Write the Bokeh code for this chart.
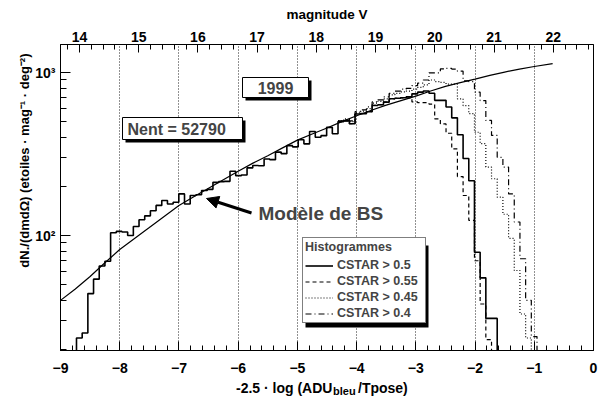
import math
import numpy as np
from bokeh.plotting import figure
from bokeh.layouts import column
from bokeh.models import (Range1d, LinearAxis, FixedTicker, BoxAnnotation, Label, Title, Div,
                          Arrow, NormalHead, Legend, LegendItem)
from bokeh.embed import file_html
from bokeh.resources import INLINE

# ---------------- data ----------------
bin_start = -8.73
bin_width = 0.096

solid_vals = [23.5, 25.2, 44, 54, 65, 69.5, 104, 106, 105, 100,
              113.5, 125, 132, 142, 153, 164, 156, 160, 180, 156,
              176, 178, 189, 192, 212, 214, 215, 248, 233, 235,
              260, 269, 268, 295, 292, 325, 318, 356, 350, 387,
              365, 435, 401, 410, 461, 421, 500, 505, 485, 557,
              560, 575, 628, 635, 658, 690, 695, 700, 710, 740,
              758, 770, 747, 675, 675, 615, 527, 415, 297, 217,
              79, 55, 31, 31, 10]

tail_start = 46
dashed_tail = [500, 505, 485, 557, 560, 575, 628, 635, 658, 690, 695, 700,
               700, 660, 653, 653, 640, 520, 484, 424, 340, 230, 176, 124,
               70, 38, 23, 10]
dotted_tail = [505, 515, 500, 565, 580, 600, 650, 665, 690, 730, 745, 760,
               770, 790, 810, 840, 900, 880, 870, 850, 850, 690, 627, 560,
               430, 366, 263, 223, 172, 135, 96, 61, 33, 23.5, 10]
dashdot_tail = [505, 520, 505, 575, 590, 615, 660, 680, 710, 745, 770, 790,
                800, 830, 860, 900, 995, 995, 1052, 1060, 1050, 1020, 890, 880,
                758, 673, 508, 411, 302, 263, 180, 121, 72, 40, 24, 10]

curve_x = [-9.0, -8.75, -8.5, -8.25, -8.0, -7.75, -7.5, -7.25, -7.0, -6.75,
           -6.5, -6.25, -6.0, -5.75, -5.5, -5.25, -5.0, -4.75, -4.5, -4.25,
           -4.0, -3.75, -3.5, -3.25, -3.0, -2.75, -2.5, -2.25, -2.0, -1.75,
           -1.5, -1.25, -1.0, -0.69]
curve_y = [40, 47, 56, 68, 82, 96, 112, 131, 153, 173,
           195, 220, 248, 278, 309, 345, 385, 420, 457, 500,
           543, 587, 631, 673, 716, 770, 822, 868, 912, 960,
           1007, 1050, 1089, 1135]

series_labels = ["CSTAR > 0.5", "CSTAR > 0.55", "CSTAR > 0.45", "CSTAR > 0.4"]
x_ticks = [-9, -8, -7, -6, -5, -4, -3, -2, -1, 0]
mag_ticks = [14, 15, 16, 17, 18, 19, 20, 21, 22]
mag_offset = 22.68
y_major = [100, 1000]
y_major_labels = {100: "10²", 1000: "10³"}
y_minor = [20, 30, 40, 50, 60, 70, 80, 90, 200, 300, 400, 500, 600, 700, 800, 900]
year_text = "1999"
nent_text = "Nent = 52790"
model_text = "Modèle de BS"
top_title = "magnitude V"
left_title = "dN./(dmdΩ) (etoiles · mag⁻¹ · deg⁻²)"

# ---------------- layout helpers (page px -> data) ----------------
Y0, Y1 = 19.7, 1486.0
X0, X1 = -9.0, 0.0
FL, FR, FT, FB = 60, 593, 44, 350
FLOOR = 1.0
FONT = "Liberation Sans"
W, H = 598, 380


def X(px):
    return X0 + (px - FL) * (X1 - X0) / (FR - FL)


def Y(py):
    l0, l1 = math.log10(Y0), math.log10(Y1)
    return 10 ** (l1 - (py - FT) / (FB - FT) * (l1 - l0))


def step_path(vals, first_index, from_floor):
    edges = [bin_start + bin_width * (first_index + k) for k in range(len(vals) + 1)]
    xs, ys = [], []
    if from_floor:
        xs.append(edges[0]); ys.append(FLOOR)
    for k, v in enumerate(vals):
        xs += [edges[k], edges[k + 1]]
        ys += [v, v]
    xs.append(edges[-1]); ys.append(FLOOR)
    return xs, ys


p = figure(width=W, height=H, x_range=Range1d(X0, X1), y_range=Range1d(Y0, Y1),
           y_axis_type="log", output_backend="svg", toolbar_location=None,
           min_border_left=FL, min_border_right=W - FR, min_border_top=FT, min_border_bottom=H - FB)
p.background_fill_color = "white"
p.border_fill_color = "white"
p.outline_line_color = "black"
p.outline_line_width = 1

# grid
p.xgrid.ticker = FixedTicker(ticks=x_ticks)
p.xgrid.grid_line_color = "#222222"
p.xgrid.grid_line_dash = "1 2"
p.xgrid.grid_line_width = 1
p.ygrid.visible = False


def style_axis(ax, tick_in, minor_in, standoff):
    ax.major_tick_in = tick_in
    ax.major_tick_out = 0
    ax.minor_tick_in = minor_in
    ax.minor_tick_out = 0
    ax.major_label_standoff = standoff
    ax.major_label_text_font = FONT
    ax.major_label_text_font_style = "bold"
    ax.major_label_text_font_size = "14px"
    ax.major_label_text_color = "black"
    ax.axis_line_color = "black"
    ax.major_tick_line_color = "black"
    ax.minor_tick_line_color = "black"


# bottom axis
xa = p.xaxis[0]
xa.ticker = FixedTicker(ticks=x_ticks, minor_ticks=list(np.round(np.arange(-9, 0.001, 0.2), 2)))
style_axis(xa, 9, 5, 12)

# left axis
ya = p.yaxis[0]
ya.ticker = FixedTicker(ticks=y_major, minor_ticks=y_minor)
ya.major_label_overrides = y_major_labels
style_axis(ya, 10, 6, 5)

# top axis (magnitude V)
p.extra_x_ranges = {"mag": Range1d(X0 + mag_offset, X1 + mag_offset)}
ta = LinearAxis(x_range_name="mag",
                ticker=FixedTicker(ticks=mag_ticks,
                                   minor_ticks=list(np.round(np.arange(13.8, 22.7, 0.2), 2))))
style_axis(ta, 8, 5, 3)
ta.axis_label = top_title
ta.axis_label_standoff = 7
ta.axis_label_text_font = FONT
ta.axis_label_text_font_style = "bold"
ta.axis_label_text_font_size = "13.5px"
ta.axis_label_text_color = "black"
p.add_layout(ta, "above")

# left title (top aligned, like ROOT)
p.add_layout(Title(text=left_title, align="right", offset=9, standoff=2,
                   text_font=FONT, text_font_style="bold", text_font_size="13px",
                   text_color="black"), "left")

# histograms
dx, dy = step_path(dashed_tail, tail_start, False)
r_dash = p.line(dx, dy, line_color="black", line_width=1.2, line_dash="4 3")
ox, oy = step_path(dotted_tail, tail_start, False)
r_dot = p.line(ox, oy, line_color="black", line_width=1.2, line_dash="1 2")
ddx, ddy = step_path(dashdot_tail, tail_start, False)
r_dd = p.line(ddx, ddy, line_color="black", line_width=1.2, line_dash="6 3 1 3")
sx, sy = step_path(solid_vals, 0, True)
r_solid = p.line(sx, sy, line_color="black", line_width=1.6)

# model curve
p.line(curve_x, curve_y, line_color="black", line_width=1.2)


# text boxes
def shadow_box(l, t, r, b, off=3):
    p.add_layout(BoxAnnotation(left=X(l + off), right=X(r + off), top=Y(t + off), bottom=Y(b + off),
                               fill_color="black", fill_alpha=1, line_alpha=0))
    p.add_layout(BoxAnnotation(left=X(l), right=X(r), top=Y(t), bottom=Y(b),
                               fill_color="white", fill_alpha=1, line_color="black",
                               line_width=1, line_alpha=1))


shadow_box(242, 77, 308, 97)
p.add_layout(Label(x=X(275), y=Y(87.5), text=year_text, text_align="center", text_baseline="middle",
                   text_font=FONT, text_font_style="bold", text_font_size="16px"))
shadow_box(122, 117, 242, 139)
p.add_layout(Label(x=X(127), y=Y(128.5), text=nent_text, text_align="left", text_baseline="middle",
                   text_font=FONT, text_font_style="bold", text_font_size="16px"))

# arrow and model label
p.add_layout(Arrow(end=NormalHead(size=12, fill_color="black", line_color="black"),
                   x_start=X(251), y_start=Y(212.5), x_end=X(206), y_end=Y(198),
                   line_width=3, line_color="black"))
p.add_layout(Label(x=X(258), y=Y(212.5), text=model_text, text_align="left", text_baseline="middle",
                   text_font=FONT, text_font_style="bold", text_font_size="19px"))

# legend with shadow
p.add_layout(BoxAnnotation(left=X(305), right=X(428), top=Y(245), bottom=Y(327),
                           fill_color="black", fill_alpha=1, line_alpha=0))
legend = Legend(items=[LegendItem(label=series_labels[0], renderers=[r_solid]),
                       LegendItem(label=series_labels[1], renderers=[r_dash]),
                       LegendItem(label=series_labels[2], renderers=[r_dot]),
                       LegendItem(label=series_labels[3], renderers=[r_dd])],
                location=(242, 27), title="Histogrammes",
                title_text_font=FONT, title_text_font_style="bold", title_text_font_size="12.5px",
                label_text_font=FONT, label_text_font_style="bold", label_text_font_size="12.5px",
                border_line_color="black", border_line_width=1, background_fill_color="white",
                background_fill_alpha=1, padding=2, margin=0, spacing=2, glyph_width=28,
                glyph_height=13, label_height=13, label_standoff=4, title_standoff=4, label_width=86)
p.add_layout(legend)

# bottom title with subscript (HTML below the figure)
span = "position:absolute; top:0px; white-space:nowrap;"
bottom_html = (
    f"<div style=\"position:relative; width:{W}px; height:21px; font-family:'{FONT}'; "
    "font-weight:bold; font-size:14px; line-height:16px; color:black;\">"
    f"<span style=\"{span} left:236px;\">-2.5 · log (ADU</span>"
    f"<span style=\"{span} left:333px; top:5px; font-size:11px; line-height:12px;\">bleu</span>"
    f"<span style=\"{span} left:358px;\">/Tpose)</span>"
    "</div>"
)
div = Div(text=bottom_html, width=W, height=21, margin=0)

layout = column(p, div, spacing=0)
open("out.html", "w").write(file_html(layout, INLINE))
